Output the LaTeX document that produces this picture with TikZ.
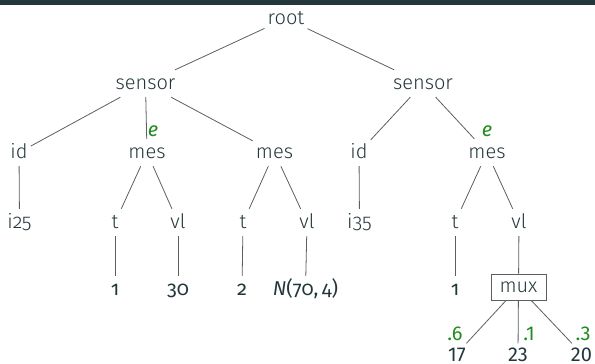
\documentclass[tikz,border=0pt]{standalone}
\usepackage{fontspec}
\setmainfont{Fira Sans Light}[Numbers=OldStyle]
\newfontfamily\firareg{Fira Sans}[Numbers=OldStyle]
\newfontfamily\firalin{Fira Sans}[Numbers=Lining]
\definecolor{mdark}{HTML}{23373B}
\definecolor{lgray}{HTML}{5A5F60}
\definecolor{egreen}{RGB}{30,140,30}
\begin{document}
\begin{tikzpicture}[x=1pt,y=-1pt,
  every node/.style={font=\fontsize{20}{24}\selectfont, text=mdark, inner sep=3pt},
  tn/.style={anchor=base, text height=16pt, text depth=5pt},
  num/.style={tn, font=\fontsize{20}{24}\selectfont\firareg},
  leafnum/.style={anchor=base, text height=16pt, text depth=0pt, inner sep=2pt, font=\fontsize{20}{24}\selectfont\firalin},
  prob/.style={font=\fontsize{20}{24}\selectfont\firalin, text=egreen, inner sep=0pt},
  muxbox/.style={draw=lgray, line width=0.9pt, inner sep=3pt, minimum width=55pt, minimum height=26pt},
  edge/.style={draw=lgray, line width=0.8pt}]
\useasboundingbox (0,0) rectangle (595,364);
\fill[mdark] (0,0) rectangle (595,5);
% level 1
\node[tn] (root) at (286,24) {root};
% level 2
\node[tn] (s1) at (145.5,89) {sensor};
\node[tn] (s2) at (423,89) {sensor};
% level 3
\node[tn] (id1) at (19,158) {id};
\node[tn] (m1) at (147,158) {mes};
\node[tn] (m2) at (274.5,158) {mes};
\node[tn] (id2) at (359,158) {id};
\node[tn] (m3) at (487,158) {mes};
% level 4
\node[tn] (i25) at (19.5,228) {i25};
\node[tn] (t1) at (115,228) {t};
\node[tn] (v1) at (178,228) {vl};
\node[tn] (t2) at (243,228) {t};
\node[tn] (v2) at (307,228) {vl};
\node[tn] (i35) at (359.5,228) {i35};
\node[tn] (t3) at (455,228) {t};
\node[tn] (v3) at (519,228) {vl};
% level 5
\node[num] (n1) at (115,295) {1};
\node[num] (n30) at (178,295) {30};
\node[num] (n2) at (242,295) {2};
\node[num] (nN) at (305.5,295) {{\itshape N}(70,\,4)};
\node[num] (n1b) at (455,295) {1};
\node[muxbox] (mux) at (518.5,287) {mux};
% level 6
\node[leafnum] (n17) at (457,361.5) {17};
\node[leafnum] (n23) at (518,361.5) {23};
\node[leafnum] (n20) at (581.5,361.5) {20};
% labels
\node[prob] (p6) at (455,334) {.6};
\node[prob] (p1) at (529,334) {.1};
\node[prob] (p3) at (583,334) {.3};
\node[prob, font=\fontsize{20}{24}\selectfont\firareg\itshape] (e1) at (153,131) {e};
\node[prob, font=\fontsize{20}{24}\selectfont\firareg\itshape] (e2) at (487,131) {e};
% edges
\path[edge] (root) -- (s1);
\path[edge] (root) -- (s2);
\path[edge] (s1) -- (id1);
\path[edge] (s1) -- (m1);
\path[edge] (s1) -- (m2);
\path[edge] (s2) -- (id2);
\path[edge] (s2) -- (m3);
\path[edge] (id1) -- (i25);
\path[edge] (m1) -- (t1);
\path[edge] (m1) -- (v1);
\path[edge] (m2) -- (t2);
\path[edge] (m2) -- (v2);
\path[edge] (id2) -- (i35);
\path[edge] (m3) -- (t3);
\path[edge] (m3) -- (v3);
\path[edge] (t1) -- (n1);
\path[edge] (v1) -- (n30);
\path[edge] (t2) -- (n2);
\path[edge] (v2) -- (nN);
\path[edge] (t3) -- (n1b);
\path[edge] (v3) -- (mux);
\path[edge] (mux) -- (n17);
\path[edge] (mux) -- (n23);
\path[edge] (mux) -- (n20);
\end{tikzpicture}
\end{document}
